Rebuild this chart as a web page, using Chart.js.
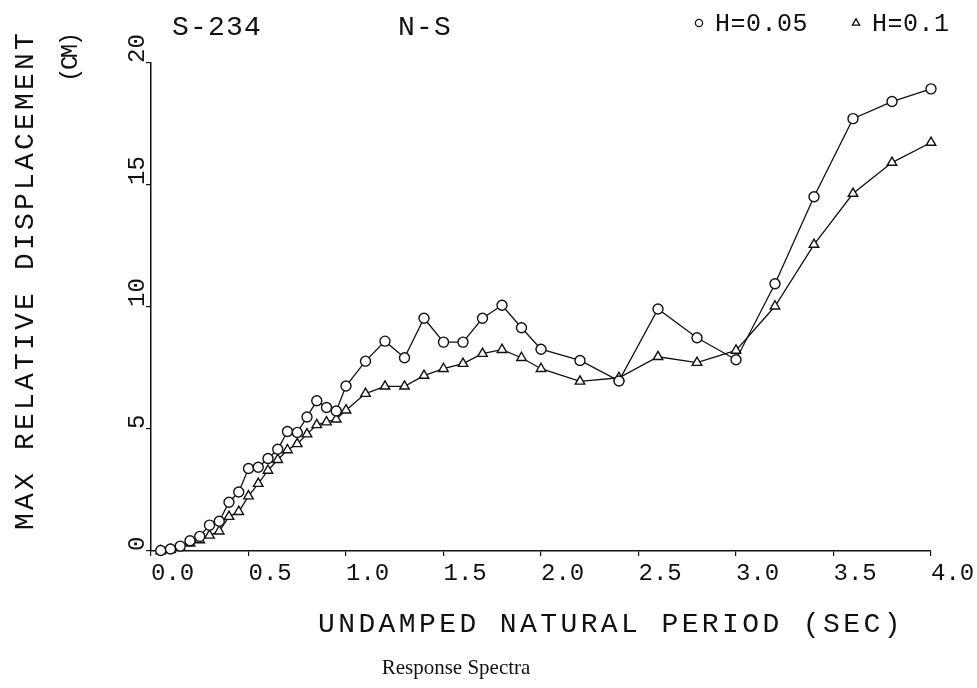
<!DOCTYPE html>
<html>
<head>
<meta charset="utf-8">
<script src="https://cdn.jsdelivr.net/npm/chart.js@4.4.1/dist/chart.umd.min.js"></script>
<style>
  html, body { margin: 0; padding: 0; background: #ffffff; }
  #wrap { width: 977px; height: 688px; position: relative; }
  canvas { display: block; }
</style>
</head>
<body>
<div id="wrap"><canvas id="c" width="977" height="688"></canvas></div>
<script>
// ---- data ----
const periods = [0.05, 0.10, 0.15, 0.20, 0.25, 0.30, 0.35, 0.40, 0.45, 0.50,
                 0.55, 0.60, 0.65, 0.70, 0.75, 0.80, 0.85, 0.90, 0.95, 1.00,
                 1.1, 1.2, 1.3, 1.4, 1.5, 1.6, 1.7, 1.8, 1.9, 2.0,
                 2.2, 2.4, 2.6, 2.8, 3.0, 3.2, 3.4, 3.6, 3.8, 4.0];
const dispH005 = [0.02, 0.08, 0.20, 0.42, 0.60, 1.06, 1.22, 2.00, 2.42, 3.38,
                  3.43, 3.79, 4.17, 4.90, 4.86, 5.49, 6.16, 5.88, 5.74, 6.76,
                  7.78, 8.60, 7.92, 9.54, 8.56, 8.56, 9.54, 10.07, 9.15, 8.27,
                  7.81, 6.97, 9.92, 8.74, 7.84, 10.95, 14.52, 17.72, 18.42, 18.94];
const dispH01  = [0.00, 0.05, 0.14, 0.32, 0.45, 0.64, 0.81, 1.41, 1.61, 2.25,
                  2.76, 3.30, 3.74, 4.14, 4.39, 4.79, 5.17, 5.28, 5.40, 5.77,
                  6.45, 6.75, 6.75, 7.19, 7.47, 7.68, 8.09, 8.25, 7.92, 7.47,
                  6.95, 7.10, 7.96, 7.72, 8.22, 10.03, 12.56, 14.65, 15.92, 16.74];
const seriesLabels = ['H=0.05', 'H=0.1'];
const headerLabels = ['S-234', 'N-S'];
const xAxisTitle = 'UNDAMPED NATURAL PERIOD (SEC)';
const yAxisTitle = 'MAX RELATIVE DISPLACEMENT';
const yAxisUnit = '(CM)';
const caption = 'Response Spectra';
const xRange = [0, 4];
const xStep = 0.5;
const yRange = [0, 20];
const yStep = 5;

const INK = '#111111';
const MONO = '"Liberation Mono", "DejaVu Sans Mono", monospace';

function toPoints(arr) { return periods.map((t, i) => ({ x: t, y: arr[i] })); }

function spacedText(ctx, text, x, y, spacing) {
  try { ctx.letterSpacing = spacing + 'px'; } catch (e) {}
  ctx.fillText(text, x, y);
  try { ctx.letterSpacing = '0px'; } catch (e) {}
}

const textPlugin = {
  id: 'plotterText',
  afterDraw(chart) {
    const ctx = chart.ctx;
    ctx.save();
    ctx.fillStyle = INK;
    ctx.textAlign = 'left';
    ctx.textBaseline = 'alphabetic';

    // header
    ctx.font = '28px ' + MONO;
    spacedText(ctx, headerLabels[0], 172, 35, 1.2);
    spacedText(ctx, headerLabels[1], 398, 35, 1.2);

    // legend (markers follow dataset styles)
    ctx.font = '25px ' + MONO;
    chart.data.datasets.forEach((ds, i) => {
      const mx = i === 0 ? 699 : 856;
      const tx = i === 0 ? 715 : 872;
      ctx.save();
      ctx.strokeStyle = INK; ctx.fillStyle = '#ffffff'; ctx.lineWidth = 1.3;
      Chart.helpers.drawPoint(ctx, { pointStyle: ds.pointStyle, rotation: 0, radius: i === 0 ? 3.6 : 4.2, borderWidth: 1.3 }, mx, 23);
      ctx.restore();
      spacedText(ctx, ds.label, tx, 31, 0.5);
    });

    // x axis title
    ctx.font = '28px ' + MONO;
    spacedText(ctx, xAxisTitle, 318, 632, 3.4);

    // y axis title (rotated)
    ctx.save();
    ctx.translate(33, 530);
    ctx.rotate(-Math.PI / 2);
    ctx.font = '28px ' + MONO;
    spacedText(ctx, yAxisTitle, 0, 0, 3.2);
    ctx.restore();

    ctx.save();
    ctx.translate(77, 82);
    ctx.rotate(-Math.PI / 2);
    ctx.font = '24px ' + MONO;
    spacedText(ctx, yAxisUnit, 0, 0, -2.5);
    ctx.restore();

    // caption
    ctx.font = '21px "Liberation Serif", "Times New Roman", serif';
    ctx.textAlign = 'center';
    ctx.fillText(caption, 456, 674);
    ctx.restore();
  }
};

const bgPlugin = {
  id: 'bg',
  beforeDraw(chart) {
    const ctx = chart.ctx;
    ctx.save();
    ctx.fillStyle = '#ffffff';
    ctx.fillRect(0, 0, chart.width, chart.height);
    ctx.restore();
  }
};

new Chart(document.getElementById('c'), {
  type: 'line',
  data: {
    datasets: [
      {
        label: seriesLabels[0],
        data: toPoints(dispH005),
        borderColor: INK,
        borderWidth: 1.3,
        pointStyle: 'circle',
        pointRadius: 5,
        pointBorderWidth: 1.4,
        pointBorderColor: INK,
        pointBackgroundColor: '#ffffff',
        tension: 0,
        fill: false,
        clip: false
      },
      {
        label: seriesLabels[1],
        data: toPoints(dispH01),
        borderColor: INK,
        borderWidth: 1.3,
        pointStyle: 'triangle',
        pointRadius: 5.5,
        pointBorderWidth: 1.4,
        pointBorderColor: INK,
        pointBackgroundColor: '#ffffff',
        tension: 0,
        fill: false,
        clip: false
      }
    ]
  },
  options: {
    responsive: false,
    animation: false,
    layout: { padding: { left: 126, right: 46, top: 63, bottom: 97 } },
    plugins: {
      legend: { display: false },
      tooltip: { enabled: false },
      title: { display: false }
    },
    scales: {
      x: {
        type: 'linear',
        min: xRange[0], max: xRange[1],
        grid: { display: true, drawOnChartArea: false, drawTicks: true, tickLength: 5, color: INK, lineWidth: 1.2 },
        border: { display: true, color: INK, width: 1.5 },
        ticks: {
          stepSize: xStep,
          align: 'start',
          padding: 3,
          color: INK,
          font: { family: MONO, size: 24 },
          maxRotation: 0, minRotation: 0,
          callback: (v) => Number(v).toFixed(1)
        },
        afterFit(scale) { scale.height = 40; scale.paddingLeft = 0; scale.paddingRight = 0; }
      },
      y: {
        type: 'linear',
        min: yRange[0], max: yRange[1],
        grid: { display: true, drawOnChartArea: false, drawTicks: true, tickLength: 5, color: INK, lineWidth: 1.2 },
        border: { display: true, color: INK, width: 1.5 },
        ticks: {
          stepSize: yStep,
          minRotation: 90, maxRotation: 90,
          crossAlign: 'far',
          align: 'start',
          color: INK,
          font: { family: MONO, size: 24 },
          callback: (v) => String(v)
        },
        afterFit(scale) { scale.width = 25; scale.paddingTop = 0; scale.paddingBottom = 0; }
      }
    }
  },
  plugins: [bgPlugin, textPlugin]
});
</script>
</body>
</html>
